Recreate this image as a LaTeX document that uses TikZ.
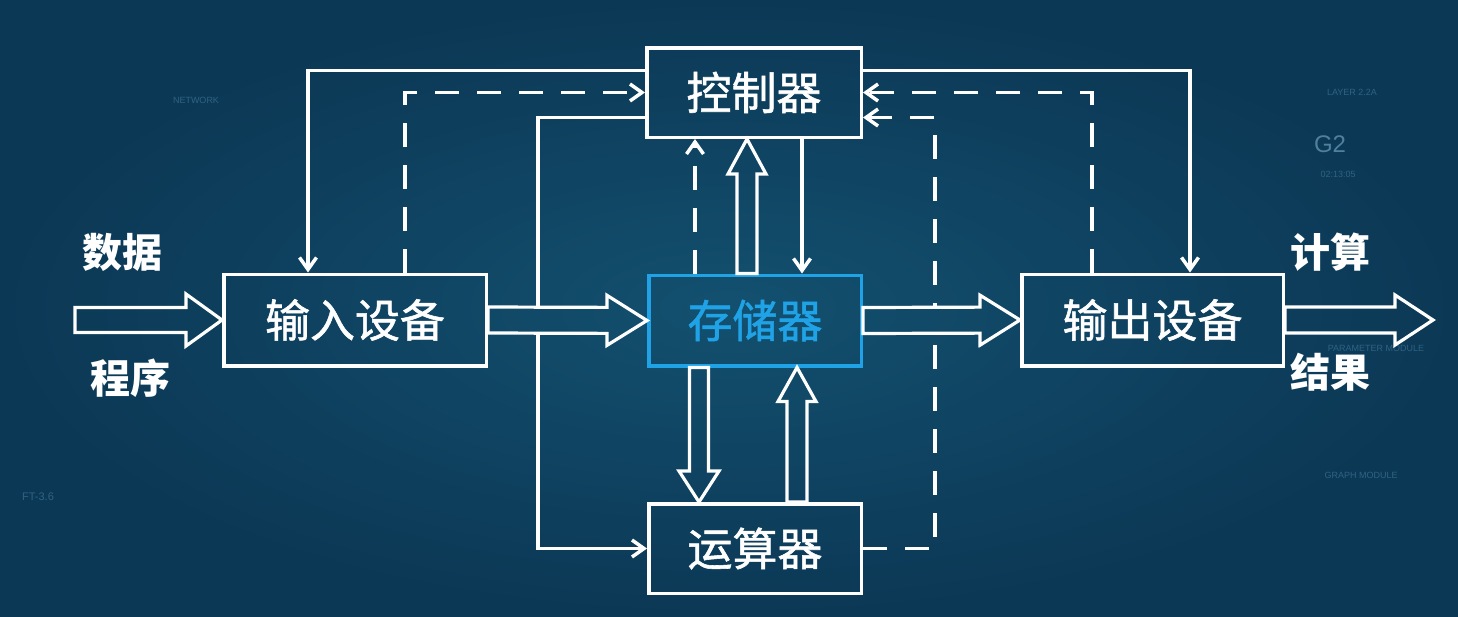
\documentclass[tikz,border=0pt]{standalone}
\usepackage{fontspec}
\newfontfamily\cjk{Noto Sans CJK SC}
\newfontfamily\cjkm{Noto Sans CJK SC}[FakeBold=1.2]
\setsansfont{Liberation Sans}
\usetikzlibrary{arrows.meta,calc}
\definecolor{bgin}{HTML}{13506F}
\definecolor{bgout}{HTML}{0B3855}
\definecolor{memblue}{HTML}{1FA2E6}
\definecolor{deco}{HTML}{2F6282}
\definecolor{decob}{HTML}{4F809E}
\newcommand\fatarrow[5]{%
  \coordinate (fah) at ($(#2)!#5!(#1)$);
  \def\fatpoly{($(#1)!#3!90:(#2)$) -- ($(fah)!#3!90:(#2)$) -- ($(fah)!#4!90:(#2)$) -- (#2) -- ($(fah)!#4!-90:(#2)$) -- ($(fah)!#3!-90:(#2)$) -- ($(#1)!#3!-90:(#2)$) -- cycle}%
  \begin{scope}\clip \fatpoly; \shade[bgshade] (bgA) rectangle (bgB);\end{scope}
  \draw[fat] \fatpoly;
}
\begin{document}
\begin{tikzpicture}[x=1pt,y=-1pt,
  bgshade/.style={inner color=bgin, outer color=bgout},
  box/.style={draw=white, line width=3.5pt, inner sep=0pt, text=white,
    font=\cjkm\fontsize{45}{45}\selectfont},
  membox/.style={box, draw=memblue, text=memblue},
  side/.style={text=white, font=\cjk\bfseries\fontsize{40}{40}\selectfont},
  sline/.style={draw=white, line width=3.5pt},
  dline/.style={draw=white, line width=3.5pt, dash pattern=on 24pt off 18pt},
  tip/.style={-{Straight Barb[length=12pt,width=17pt]}},
  fat/.style={draw=white, line width=3.2pt, line join=miter},
  decot/.style={text=deco, font=\sffamily\fontsize{9}{9}\selectfont}
]
\coordinate (bgA) at (0,0);
\coordinate (bgB) at (1458,616);
\useasboundingbox (bgA) rectangle (bgB);
\shade[bgshade] (bgA) rectangle (bgB);

% faint background decorations
\node[decot, text=decob, font=\sffamily\fontsize{24}{24}\selectfont] (g2) at (1330,144) {G2};
\node[decot] (tm) at (1338,174) {02:13:05};
\node[decot] (ly) at (1352,92) {LAYER 2.2A};
\node[decot] (nw) at (196,100) {NETWORK};
\node[decot] (gm) at (1361,475) {GRAPH MODULE};
\node[decot] (pm) at (1376,348) {PARAMETER MODULE};
\node[decot, font=\sffamily\fontsize{11}{11}\selectfont] (ft) at (38,497) {FT-3.6};

% boxes
\node[box, minimum width=214.5pt, minimum height=89.5pt] (ctrl) at (754,92.5) {控制器};
\node[membox, minimum width=212.5pt, minimum height=90.5pt] (mem) at (755,320.5) {存储器};
\node[box, minimum width=212.5pt, minimum height=89.5pt] (alu) at (755,548.5) {运算器};
\node[box, minimum width=262.5pt, minimum height=91.5pt] (in) at (355,320) {输入设备};
\node[box, minimum width=261.5pt, minimum height=91.5pt] (out) at (1152.5,320) {输出设备};

% side labels
\node[side] (l1) at (122,252) {数据};
\node[side] (l2) at (130,378) {程序};
\node[side] (l3) at (1330,252) {计算};
\node[side] (l4) at (1330,372) {结果};

% thin connectors, left
\draw[sline, tip] ([yshift=22pt]ctrl.west) -| ([xshift=-47pt]in.north);
\draw[dline, tip] ([xshift=50pt]in.north) |- (ctrl.west);
\draw[sline, tip] ([yshift=-25pt]ctrl.west) -| ([xshift=-109pt]alu.west) -- (alu.west);
% thin connectors, right
\draw[sline, tip] ([yshift=22pt]ctrl.east) -| ([xshift=37.5pt]out.north);
\draw[dline, tip] ([xshift=-60.5pt]out.north) |- (ctrl.east);
\draw[dline, tip] (alu.east) -| ([xshift=72pt,yshift=-25pt]ctrl.east) -- ([yshift=-25pt]ctrl.east);
% thin connectors, centre
\draw[dline, tip] ([xshift=-60pt]mem.north) -- ([xshift=-59pt]ctrl.south);
\draw[sline, tip] ([xshift=48pt]ctrl.south) -- ([xshift=47pt]mem.north);

% fat hollow arrows
\coordinate (inS) at (75,320);
\coordinate (outE) at (1433,320);
\coordinate (f5a) at ([xshift=-8pt]mem.north);
\coordinate (f5b) at ([xshift=-7pt]ctrl.south);
\coordinate (f6a) at ([xshift=-56pt]mem.south);
\coordinate (f6b) at ([xshift=-56pt]alu.north);
\coordinate (f7a) at ([xshift=42pt]alu.north);
\coordinate (f7b) at ([xshift=42pt]mem.south);
\fatarrow{inS}{in.west}{12.5pt}{26pt}{36pt}
\fatarrow{in.east}{mem.west}{13pt}{25pt}{40pt}
\fatarrow{mem.east}{out.west}{13pt}{25pt}{40pt}
\fatarrow{out.east}{outE}{13pt}{25pt}{38pt}
\fatarrow{f5a}{f5b}{10pt}{19pt}{35pt}
\fatarrow{f6a}{f6b}{9.5pt}{20pt}{31pt}
\fatarrow{f7a}{f7b}{10pt}{19pt}{34pt}
\end{tikzpicture}
\end{document}
